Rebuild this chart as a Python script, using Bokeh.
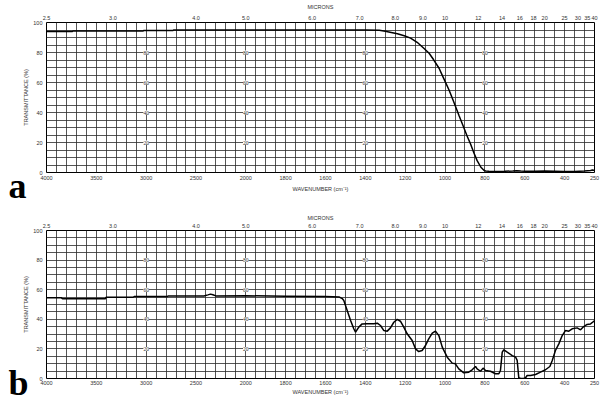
import numpy as np
from bokeh.plotting import figure
from bokeh.models import FixedTicker, LinearAxis, LabelSet, ColumnDataSource, Range1d, Label
from bokeh.layouts import column
from bokeh.embed import file_html
from bokeh.resources import INLINE

# ---------------- data ----------------
wn_a = [4000, 3740, 3735, 3030, 3025, 2730, 2725, 2000, 1600, 1400,
        1330, 1300, 1270, 1239, 1205, 1173, 1140, 1108, 1080, 1058,
        1030, 1008, 980, 958, 930, 906, 890, 872, 855, 839,
        820, 805, 797, 780, 750, 700, 660, 640, 620, 600,
        550, 500, 450, 400, 350, 300, 270, 260, 250]
t_a = [94.0, 94.0, 94.3, 94.3, 94.7, 94.7, 95.0, 95.0, 95.0, 95.0,
       94.8, 94.2, 93.4, 92.5, 91.2, 89.6, 86.8, 83.0, 79.5, 75.3,
       69.5, 63.1, 55.0, 47.7, 38.0, 30.0, 24.5, 19.0, 13.0, 7.9,
       3.5, 1.5, 1.0, 0.8, 0.7, 0.8, 1.0, 1.2, 1.0, 0.9,
       0.9, 1.0, 0.8, 0.6, 0.7, 1.0, 1.4, 1.6, 1.3]

wn_b = [4000, 3850, 3840, 3410, 3400, 3130, 3120, 2790, 2780, 2420,
        2380, 2354, 2330, 2300, 2000, 1800, 1600, 1530, 1516, 1508,
        1491, 1474, 1458, 1449, 1433, 1416, 1391, 1358, 1340, 1324,
        1307, 1290, 1274, 1257, 1240, 1224, 1207, 1190, 1165, 1148,
        1132, 1115, 1098, 1082, 1064, 1048, 1031, 1014, 989, 964,
        948, 931, 906, 881, 864, 847, 839, 822, 809, 797,
        772, 747, 730, 722, 713, 705, 688, 663, 646, 638,
        630, 621, 605, 596, 588, 571, 546, 521, 496, 474,
        462, 446, 429, 412, 396, 379, 362, 337, 320, 304,
        287, 270, 253, 250]
t_b = [54.5, 54.5, 53.9, 53.9, 54.9, 54.9, 55.4, 55.4, 55.7, 55.8,
       56.5, 57.0, 56.6, 55.8, 55.9, 55.6, 55.4, 55.0, 54.0, 52.7,
       46.0, 39.2, 33.6, 31.3, 34.7, 36.9, 37.0, 37.0, 37.4, 35.8,
       32.4, 32.0, 34.2, 38.0, 39.9, 38.7, 34.7, 30.2, 25.7, 20.0,
       18.2, 18.9, 22.3, 26.8, 30.6, 32.0, 29.0, 21.2, 14.4, 10.4,
       9.9, 6.5, 3.8, 4.3, 5.9, 8.1, 6.5, 4.9, 7.0, 5.4,
       4.9, 3.2, 3.2, 5.4, 17.8, 19.4, 17.8, 15.5, 14.4, 12.2,
       0.5, 0.0, 0.0, 0.5, 2.0, 2.0, 2.7, 4.3, 5.9, 8.1,
       12.2, 18.9, 23.4, 29.0, 32.4, 32.0, 33.6, 34.2, 32.9, 35.1,
       36.5, 36.9, 38.7, 39.0]

wn_ticks = [4000, 3500, 3000, 2500, 2000, 1800, 1600, 1400, 1200, 1000, 800, 600, 400, 250]
micron_ticks = [2.5, 3.0, 4.0, 5.0, 6.0, 7.0, 8.0, 9.0, 10, 12, 14, 16, 18, 20, 25, 30, 35, 40]
micron_labels = ["2.5", "3.0", "4.0", "5.0", "6.0", "7.0", "8.0", "9.0", "10", "12",
                 "14", "16", "18", "20", "25", "30", "35", "40"]
y_ticks = [0, 20, 40, 60, 80, 100]
inner_wn = [3000, 2000, 1400, 800]
inner_y = [20, 40, 60, 80]

FONT = "Liberation Sans"
FS = "5.5px"
TXT = "#333333"
BORDER_L, BORDER_R = 46, 7
WIDTH = 601


def tx(w):
    """Chart x-scale: 4000-2000 cm-1 drawn at half the scale of 2000-250 cm-1."""
    w = float(w)
    return w if w <= 2000 else 2000.0 + (w - 2000.0) / 2.0


def panel(wn, t, letter, height, b_top, b_bot, top_std, bot_lab_std, bot_ax_std, letter_drop):
    p = figure(width=WIDTH, height=height, output_backend="svg", toolbar_location=None,
               x_range=Range1d(tx(4000), tx(250)), y_range=Range1d(0, 100),
               min_border_left=BORDER_L, min_border_right=BORDER_R,
               min_border_top=b_top, min_border_bottom=b_bot,
               background_fill_color="white", border_fill_color="white")
    p.outline_line_color = "black"
    p.outline_line_width = 1

    # grid
    grid_w = list(np.arange(4000, 2000, -100)) + list(np.arange(2000, 249, -50))
    p.xgrid.ticker = FixedTicker(ticks=[tx(w) for w in grid_w])
    p.ygrid.ticker = FixedTicker(ticks=list(range(0, 101, 5)))
    for g in (p.xgrid, p.ygrid):
        g.grid_line_color = "#2a2a2a"
        g.grid_line_width = 1
        g.grid_line_alpha = 0.8

    # bottom axis (wavenumber)
    xb = p.below[0]
    xb.ticker = FixedTicker(ticks=[tx(w) for w in wn_ticks])
    xb.major_label_overrides = {tx(w): str(w) for w in wn_ticks}
    xb.axis_label = "WAVENUMBER (cm\u207b\u00b9)"
    xb.major_label_standoff = bot_lab_std
    xb.axis_label_standoff = bot_ax_std

    # left axis
    yl = p.left[0]
    yl.ticker = FixedTicker(ticks=y_ticks)
    yl.axis_label = "TRANSMITTANCE (%)"
    yl.major_label_standoff = 4
    yl.axis_label_standoff = 1

    # top axis (microns)
    xt = LinearAxis(ticker=FixedTicker(ticks=[tx(10000.0 / m) for m in micron_ticks]),
                    major_label_overrides={tx(10000.0 / m): s for m, s in zip(micron_ticks, micron_labels)},
                    axis_label="MICRONS")
    xt.major_label_standoff = 3
    xt.axis_label_standoff = top_std
    p.add_layout(xt, "above")

    for ax in (xb, yl, xt):
        ax.axis_line_color = None
        ax.major_tick_out = 0
        ax.major_tick_in = 0
        ax.minor_tick_out = 0
        ax.minor_tick_in = 0
        ax.major_label_text_font = FONT
        ax.major_label_text_font_size = FS
        ax.major_label_text_color = TXT
        ax.axis_label_text_font = FONT
        ax.axis_label_text_font_size = FS
        ax.axis_label_text_color = TXT
        ax.axis_label_text_font_style = "normal"

    # inner labels on the grid
    ix, iy, it = [], [], []
    for w in inner_wn:
        for v in inner_y:
            ix.append(tx(w)); iy.append(v); it.append(str(v))
    p.add_layout(LabelSet(source=ColumnDataSource(dict(x=ix, y=iy, text=it)),
                          x="x", y="y", text="text", text_align="center", text_baseline="middle",
                          text_font_size=FS, text_color=TXT, text_font=FONT,
                          background_fill_color="white"))

    # spectrum
    src = ColumnDataSource(dict(x=[tx(w) for w in wn], y=t))
    p.line("x", "y", source=src, line_color="black", line_width=1.5)

    # right-hand labels (cut by the page edge, as in the scan) - in a side panel so not clipped
    rx = [tx(250)] * len(y_ticks)
    p.add_layout(LabelSet(source=ColumnDataSource(dict(x=rx, y=y_ticks, text=[str(v) for v in y_ticks])),
                          x="x", y="y", text="text", x_offset=3, text_align="left",
                          text_baseline="middle", text_font_size=FS, text_color=TXT, text_font=FONT),
                 "right")

    # panel letter in the left margin (side panel -> not clipped to the frame)
    frame_w = WIDTH - BORDER_L - BORDER_R
    frame_h = height - b_top - b_bot
    upx = (tx(4000) - tx(250)) / frame_w
    upy = 100.0 / frame_h
    p.add_layout(Label(x=tx(4000) + (BORDER_L - 8) * upx, y=-letter_drop * upy, text=letter,
                       text_font="Liberation Serif", text_font_style="bold",
                       text_font_size="36px", text_color="black",
                       text_baseline="alphabetic", text_align="left"),
                 "left")
    return p


pa = panel(wn_a, t_a, "a", 205, 21, 33, 3, 3, 3, 14)
pb = panel(wn_b, t_b, "b", 192, 25, 19, 0, 2, 1, 4)

layout = column(pa, pb, spacing=0)
open("out.html", "w").write(file_html(layout, INLINE))
